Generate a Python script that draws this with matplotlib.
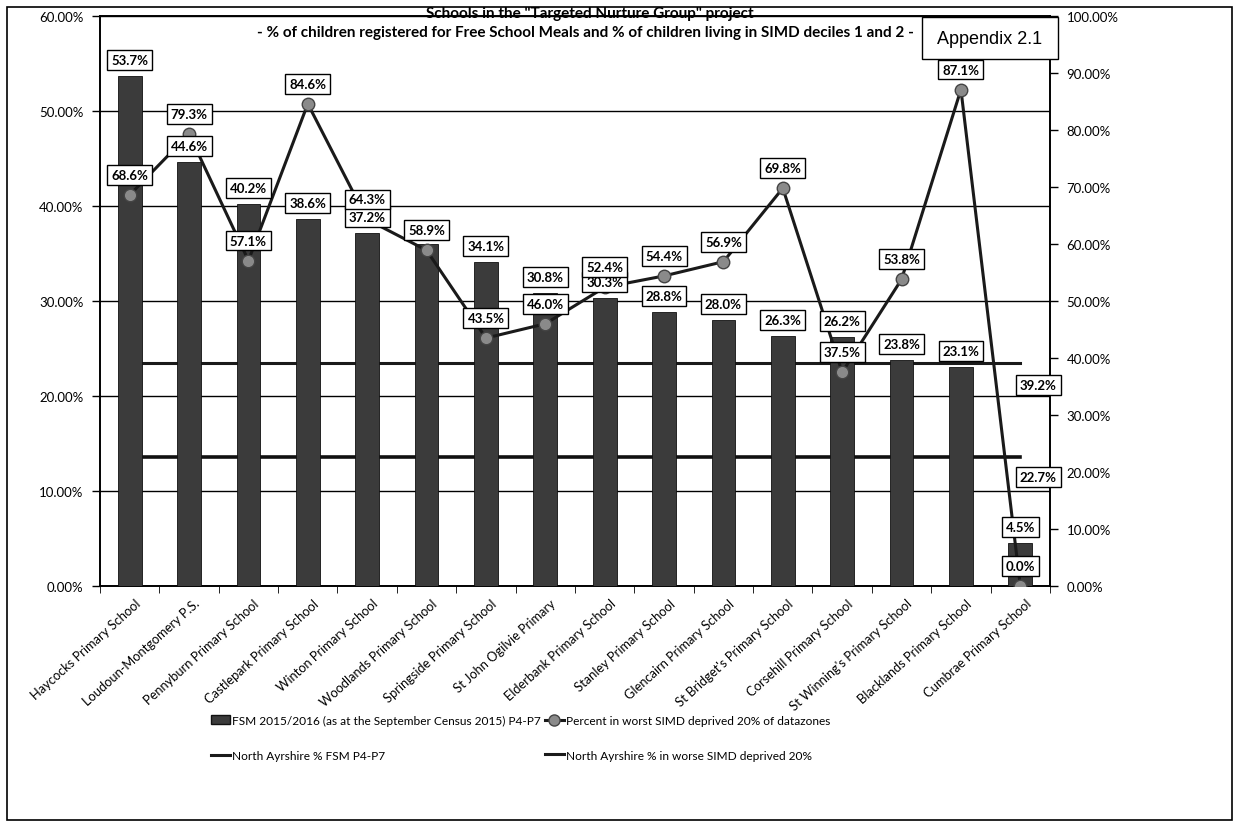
import matplotlib
matplotlib.use('Agg')
import matplotlib.pyplot as plt
import matplotlib.transforms as mtransforms
from matplotlib.patches import Rectangle
from matplotlib.lines import Line2D
from matplotlib.ticker import FuncFormatter, MultipleLocator, FixedLocator
import numpy as np

schools = ['Haycocks Primary School', 'Loudoun-Montgomery P.S.', 'Pennyburn Primary School',
           'Castlepark Primary School', 'Winton Primary School', 'Woodlands Primary School',
           'Springside Primary School', 'St John Ogilvie Primary', 'Elderbank Primary School',
           'Stanley Primary School', 'Glencairn Primary School', "St Bridget's Primary School",
           'Corsehill Primary School', "St Winning's Primary School", 'Blacklands Primary School',
           'Cumbrae Primary School']
fsm = [53.7, 44.6, 40.2, 38.6, 37.2, 36.0, 34.1, 30.8, 30.3, 28.8, 28.0, 26.3, 26.2, 23.8, 23.1, 4.5]
fsm_label_shown = [True, True, True, True, True, False, True, True, True, True, True, True, True, True, True, True]
simd = [68.6, 79.3, 57.1, 84.6, 64.3, 58.9, 43.5, 46.0, 52.4, 54.4, 56.9, 69.8, 37.5, 53.8, 87.1, 0.0]
na_fsm = 22.7
na_simd = 39.2

plt.rcParams['font.family'] = ['Lato', 'DejaVu Sans']

W, H = 1247, 837
fig = plt.figure(figsize=(W / 100, H / 100), dpi=100)

def fx(px):
    return px / W

def fy(py):
    return 1 - py / H

ax = fig.add_axes([fx(100), fy(587), fx(1050) - fx(100), fy(17) - fy(587)])
ax2 = ax.twinx()

x = np.arange(len(schools))

# gridlines on the left axis
ax.set_ylim(0, 60)
ax.set_xlim(-0.5, len(schools) - 0.5)
ax.yaxis.set_major_locator(MultipleLocator(10))
ax.yaxis.grid(True, color='black', lw=1.0)
ax.set_axisbelow(True)

# North Ayrshire reference lines (right axis, drawn behind the bars)
ax.set_zorder(2)
ax2.set_zorder(1)
ax.patch.set_visible(False)
ax2.set_ylim(0, 100)
ax2.plot(x, [na_simd] * len(x), color='#1a1a1a', lw=2.2, zorder=1)
ax2.plot(x, [na_fsm] * len(x), color='#111111', lw=2.6, zorder=1)

bars = ax.bar(x, fsm, width=0.4, color='#3b3b3b', edgecolor='#111111', lw=0.6, zorder=3)

# SIMD line plotted on the left axis in right-axis units
scale = 60 / 100
simd_l = [v * scale for v in simd]
ax.plot(x, simd_l, color='#1a1a1a', lw=2.2, marker='o', markersize=9,
        markerfacecolor='#8a8a8a', markeredgecolor='#444444', zorder=4)

box = dict(boxstyle='square,pad=0.3', fc='white', ec='black', lw=1.0)
for i, v in enumerate(fsm):
    if fsm_label_shown[i]:
        ax.annotate(f'{v:.1f}%', (x[i], v), xytext=(0, 10), textcoords='offset pixels',
                    ha='center', va='bottom', fontsize=9.5, fontweight='bold', bbox=box, zorder=6)
for i, v in enumerate(simd_l):
    ax.annotate(f'{simd[i]:.1f}%', (x[i], v), xytext=(0, 14), textcoords='offset pixels',
                ha='center', va='bottom', fontsize=9.5, fontweight='bold', bbox=box, zorder=7)

for val, dy in [(na_simd, -22), (na_fsm, -20)]:
    ax.annotate(f'{val:.1f}%', (x[-1], val * scale), xytext=(18, dy), textcoords='offset pixels',
                ha='center', va='center', fontsize=9.5, fontweight='bold', bbox=box, zorder=7)

ax.yaxis.set_major_formatter(FuncFormatter(lambda v, p: f'{v:.2f}%'))
ax2.yaxis.set_major_locator(MultipleLocator(10))
ax2.yaxis.set_major_formatter(FuncFormatter(lambda v, p: f'{v:.2f}%'))
ax.tick_params(axis='y', direction='out', length=6, labelsize=9.5, width=1, pad=6)
ax2.tick_params(axis='y', direction='out', length=6, labelsize=9.5, width=1, pad=6)

ax.set_xticks(x)
ax.set_xticklabels(schools, rotation=42, ha='right', va='center', rotation_mode='anchor',
                   fontsize=9.3)
ax.tick_params(axis='x', length=0, pad=11)
shift = mtransforms.ScaledTranslation(0.09, 0, fig.dpi_scale_trans)
for lbl in ax.get_xticklabels():
    lbl.set_transform(lbl.get_transform() + shift)
ax.xaxis.set_minor_locator(FixedLocator(np.arange(-0.5, len(schools), 1)))
ax.tick_params(axis='x', which='minor', direction='out', length=5)

for a in (ax, ax2):
    for s in ('left', 'right', 'bottom', 'top'):
        a.spines[s].set_linewidth(1.2)

fig.text(fx(590), fy(14), 'Schools in the "Targeted Nurture Group" project', ha='center', va='center',
         fontsize=11, fontweight='bold')
fig.text(fx(585), fy(33), '- % of children registered for Free School Meals and % of children living in SIMD deciles 1 and 2 -',
         ha='center', va='center', fontsize=11, fontweight='bold')

# appendix box
fig.patches.append(Rectangle((fx(922), fy(60)), fx(1058) - fx(922), fy(18) - fy(60),
                             transform=fig.transFigure, fc='white', ec='black', lw=1.0, zorder=10))
fig.text(fx(990), fy(39), 'Appendix 2.1', ha='center', va='center', fontsize=13,
         family='Liberation Sans', zorder=11)

# outer frame
fig.patches.append(Rectangle((fx(7), fy(821)), fx(1232) - fx(7), fy(8) - fy(821),
                             transform=fig.transFigure, fill=False, ec='black', lw=1.2))

bar_handle = Rectangle((0, 0), 1, 1, fc='#3b3b3b', ec='#111111')
simd_handle = Line2D([], [], color='#1a1a1a', lw=2.2, marker='o', markersize=8,
                     markerfacecolor='#8a8a8a', markeredgecolor='#444444')
na_fsm_handle = Line2D([], [], color='#1a1a1a', lw=2.2)
na_simd_handle = Line2D([], [], color='#1a1a1a', lw=2.2)

leg_kw = dict(frameon=False, fontsize=8.6, handlelength=1.6, handletextpad=0.2,
              labelspacing=2.0, loc='upper left', borderaxespad=0)
leg1 = fig.legend([bar_handle, na_fsm_handle],
                  ['FSM 2015/2016 (as at the September Census 2015) P4-P7',
                   'North Ayrshire % FSM P4-P7'],
                  bbox_to_anchor=(fx(206), fy(711)), **leg_kw)
leg2 = fig.legend([simd_handle, na_simd_handle],
                  ['Percent in worst SIMD deprived 20% of datazones',
                   'North Ayrshire % in worse SIMD deprived 20%'],
                  bbox_to_anchor=(fx(540), fy(711)), **leg_kw)

fig.savefig('out.png', dpi=100)
